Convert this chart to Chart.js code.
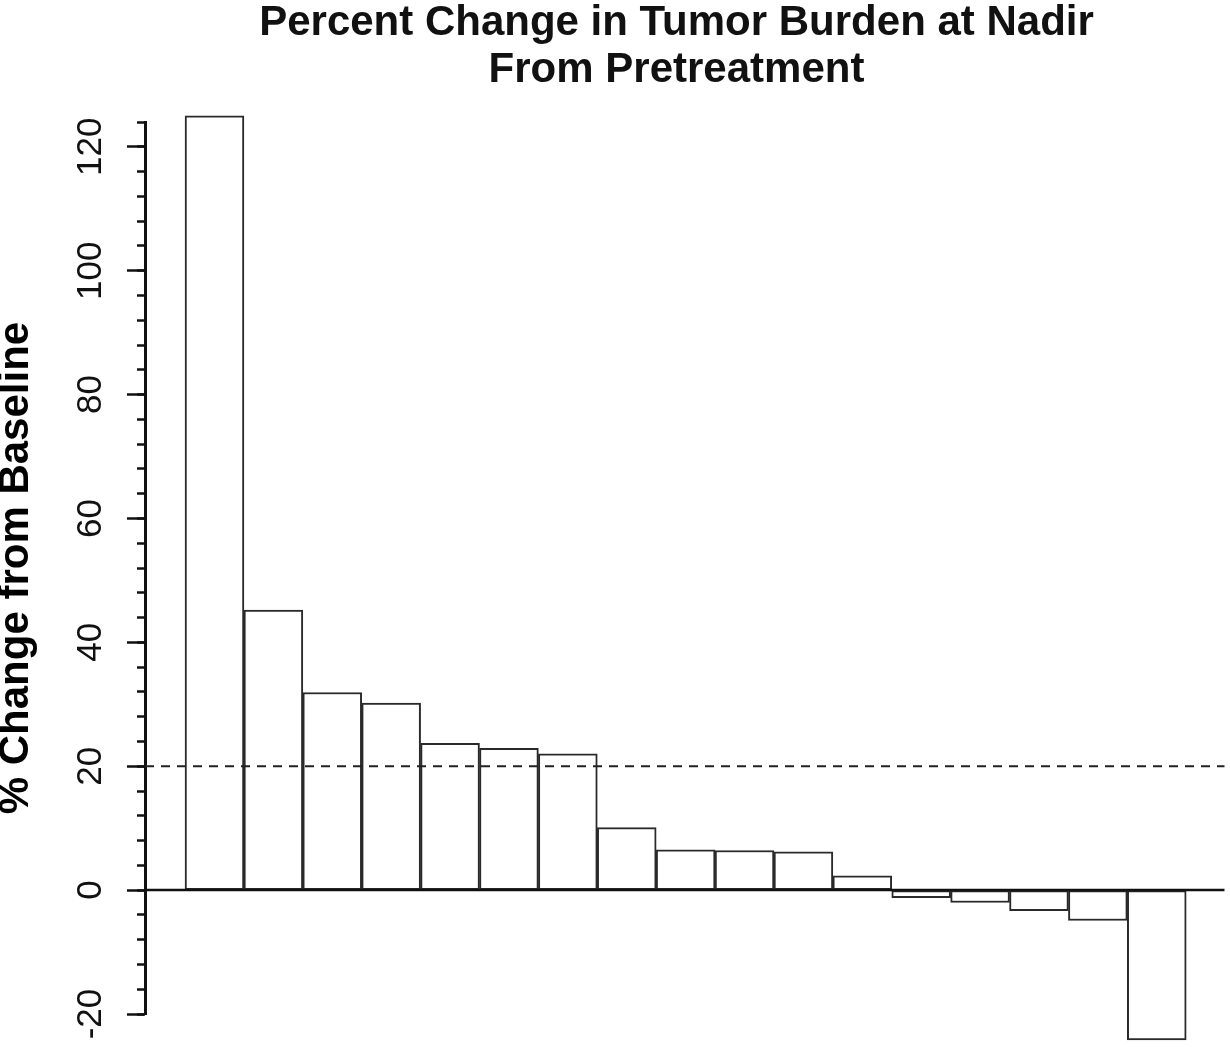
<!DOCTYPE html>
<html>
<head>
<meta charset="utf-8">
<script src="https://cdn.jsdelivr.net/npm/chart.js@4/dist/chart.umd.min.js"></script>
<style>
  html, body { margin: 0; padding: 0; background: #fff; }
  #wrap { width: 1230px; height: 1047px; position: relative; }
</style>
</head>
<body>
<div id="wrap"><canvas id="waterfall"></canvas></div>
<script>
'use strict';
/* ---------------------------------------------------------------- DATA */
const titleLines = ['Percent Change in Tumor Burden at Nadir', 'From Pretreatment'];
const yAxisTitle = '% Change from Baseline';

// one bar per patient, sorted high to low (waterfall)
const patients = [1, 2, 3, 4, 5, 6, 7, 8, 9, 10, 11, 12, 13, 14, 15, 16, 17];
const pctChange = [125, 45.2, 31.9, 30.2, 23.7, 22.9, 22.0, 10.1, 6.5, 6.4, 6.2, 2.3, -1.2, -2.0, -3.3, -4.9, -24.2];

// progression threshold drawn as dashed reference line
const progressionLevel = 20;
const zeroLevel = 0;

const yMin = -20;
const yMax = 124;
const majorStep = 20;
const minorStep = 4;

const xMin = -0.18;
const xMax = 17.87;
const refLineEnd = 18.15;

/* ---------------------------------------------------------------- CHART */
const fontFamily = '"Liberation Sans", Arial, Helvetica, sans-serif';

const barData = patients.map((p, i) => ({ x: p, y: pctChange[i] }));
const refLine = (level) => [{ x: xMin, y: level }, { x: refLineEnd, y: level }];

const ctx = document.getElementById('waterfall').getContext('2d');
const waterfallChart = new Chart(ctx, {
  type: 'bar',
  data: {
    datasets: [{
      type: 'bar',
      data: barData,
      backgroundColor: '#ffffff',
      borderColor: '#2a2a2a',
      borderWidth: 2,
      borderSkipped: false,
      categoryPercentage: 1,
      barPercentage: 1,
      clip: false,
      order: 2
    }, {
      type: 'line',
      data: refLine(zeroLevel),
      borderColor: '#111',
      borderWidth: 2.5,
      pointRadius: 0,
      clip: false,
      order: 1
    }, {
      type: 'line',
      data: refLine(progressionLevel),
      borderColor: '#222',
      borderWidth: 2,
      borderDash: [9, 7],
      pointRadius: 0,
      clip: false,
      order: 1
    }]
  },
  options: {
    responsive: true,
    maintainAspectRatio: false,
    animation: false,
    devicePixelRatio: 1,
    layout: { padding: { left: 0, right: 22, top: 0, bottom: 33 } },
    plugins: {
      legend: { display: false },
      tooltip: { enabled: false },
      title: {
        display: true,
        text: titleLines,
        fullSize: false,
        color: '#111',
        font: { family: fontFamily, size: 42, weight: 'bold', lineHeight: 1.12 },
        padding: { top: 0, bottom: 28 }
      }
    },
    scales: {
      x: {
        type: 'linear',
        display: false,
        offset: false,
        min: xMin,
        max: xMax
      },
      y: {
        type: 'linear',
        position: 'left',
        weight: 1,
        min: yMin,
        max: yMax,
        afterFit: (scale) => { scale.width = 145; },
        border: { display: true, color: '#111', width: 3 },
        grid: { drawOnChartArea: false, tickLength: 18, tickWidth: 2.5, tickColor: '#111' },
        ticks: {
          stepSize: majorStep,
          includeBounds: false,
          minRotation: 90,
          maxRotation: 90,
          crossAlign: 'center',
          padding: 6,
          color: '#111',
          font: { family: fontFamily, size: 35 }
        },
        title: {
          display: true,
          text: yAxisTitle,
          color: '#000',
          padding: { top: 0, bottom: 0 },
          font: { family: fontFamily, size: 42, weight: 'bold', lineHeight: 0.8 }
        }
      },
      yMinor: {
        type: 'linear',
        position: 'left',
        weight: 0,
        min: yMin,
        max: yMax,
        afterFit: (scale) => { scale.width = 0; },
        border: { display: false },
        grid: { drawOnChartArea: false, tickLength: 8, tickWidth: 2.5, tickColor: '#111' },
        ticks: { display: false, stepSize: minorStep }
      }
    }
  }
});
</script>
</body>
</html>
